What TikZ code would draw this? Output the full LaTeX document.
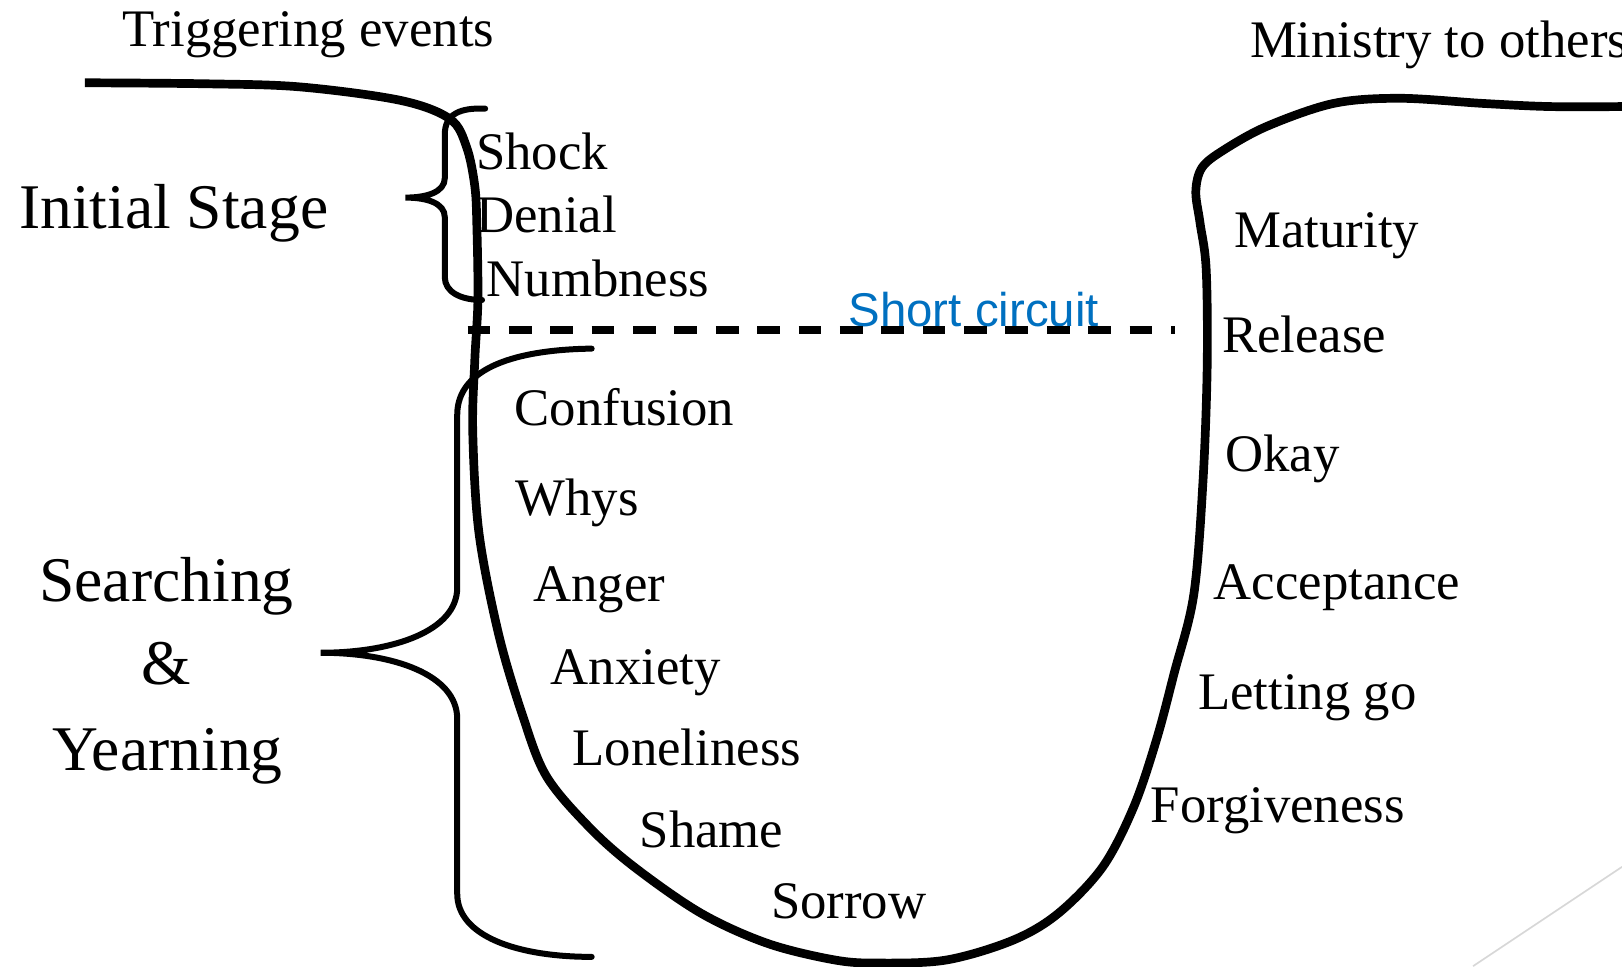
\documentclass[tikz,border=0pt]{standalone}
\usepackage{fontspec}
\setmainfont{Liberation Serif}
\newfontfamily\arialfam{Liberation Sans}
\definecolor{scblue}{RGB}{0,112,192}
\definecolor{lightgreyline}{RGB}{215,215,215}
\begin{document}
\begin{tikzpicture}[x=0.5pt,y=-0.5pt,
  txt/.style={anchor=base west, inner sep=0pt, font=\fontsize{25.5}{30}\selectfont},
  bigtxt/.style={anchor=base, inner sep=0pt, font=\fontsize{30.75}{36}\selectfont},
  sctxt/.style={anchor=base west, inner sep=0pt, text=scblue, font=\arialfam\fontsize{22.9}{27}\selectfont},
  ucurve/.style={line width=4.2pt, black},
  bracel/.style={line width=2.9pt, black, line cap=round},
  dashl/.style={line width=3.4pt, black, dash pattern=on 11pt off 9pt}
]
\useasboundingbox (0,0) rectangle (1568,934);

% main U-shaped path
\draw[ucurve] plot[smooth, tension=0.55] coordinates {
 (82,80) (200,81) (290,84) (387,97) (435,115) (451,142) (459,180) (461,219)
 (462,290) (459,348) (457,417) (463,515) (482,613) (505,691) (528,750)
 (569,799) (613,838) (678,883) (742,912) (807,928) (850,931) (915,928)
 (979,909) (1023,883) (1066,838) (1096,780) (1118,715) (1135,651) (1154,575)
 (1163,464) (1167,353) (1166,260) (1160,215) (1156,185) (1162,162) (1183,145)
 (1225,122) (1289,100) (1353,95) (1434,100) (1498,103) (1568,103)};

% small brace (Initial Stage)
\draw[bracel] (469,105) .. controls (445,104) and (430,110) .. (430,130) -- (430,172)
  .. controls (430,186) and (412,191) .. (392,191)
  .. controls (412,191) and (430,196) .. (430,210) -- (430,268)
  .. controls (430,282) and (445,290) .. (466,290);

% large brace (Searching & Yearning)
\draw[bracel] (572,337) .. controls (500,338) and (442,355) .. (442,401) -- (442,568)
  .. controls (442,610) and (380,631) .. (310,631)
  .. controls (380,631) and (442,652) .. (442,695) -- (442,864)
  .. controls (442,905) and (500,925) .. (572,925);

% faint grey line bottom right
\draw[lightgreyline, line width=0.8pt] (1568,838) -- (1424,934);

% texts
\node[txt] (trig) at (118,45) {Triggering events};
\node[txt] (mini) at (1208,56) {Ministry to others};
\node[bigtxt, anchor=base west] (init) at (18,221) {Initial Stage};
\node[txt] (shock) at (460,164) {Shock};
\node[txt] (denial) at (460,225) {Denial};
\node[txt] (numb) at (470,287) {Numbness};
\node[sctxt] (short) at (820,316) {Short circuit};

% short circuit dashed line (drawn over the label, as in the reference)
\coordinate (dashA) at (452,319);
\coordinate (dashB) at (1136,319);
\draw[dashl] (dashA) -- (dashB);

\node[txt] (conf) at (497,411) {Confusion};
\node[txt] (whys) at (498,498) {Whys};
\node[txt] (anger) at (515,581) {Anger};
\node[txt] (anx) at (532,662) {Anxiety};
\node[txt] (lone) at (553,740) {Loneliness};
\node[txt] (shame) at (618,819) {Shame};
\node[txt] (sorrow) at (745,888) {Sorrow};

\node[bigtxt] (search) at (161,581) {Searching};
\node[bigtxt] (amp) at (161,662) {\&};
\node[bigtxt] (yearn) at (162,745) {Yearning};

\node[txt] (matur) at (1193,239) {Maturity};
\node[txt] (release) at (1181,341) {Release};
\node[txt] (okay) at (1184,456) {Okay};
\node[txt] (accept) at (1173,580) {Acceptance};
\node[txt] (letgo) at (1158,686) {Letting go};
\node[txt] (forgive) at (1112,795) {Forgiveness};
\end{tikzpicture}
\end{document}
